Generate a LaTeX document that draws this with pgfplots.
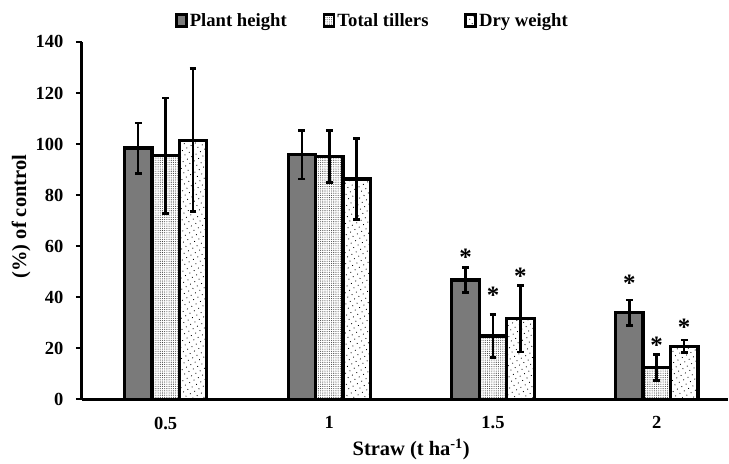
\documentclass[border=0pt]{standalone}
\usepackage{pgfplots}
\pgfplotsset{compat=1.18}
\usepackage{fontspec}
\setmainfont{Liberation Serif}
\usetikzlibrary{patterns.meta}
\tikzset{
  phfill/.style={fill=black!52},
  ttfill/.style={fill=white, postaction={pattern={Dots[distance=2.2bp, radius=0.55bp]}, pattern color=black!75}},
  dwfill/.style={fill=white, postaction={pattern={Dots[distance=5bp, radius=0.6bp, angle=30]}, pattern color=black}},
}
\pgfplotsset{
  errstyle/.style={draw=none, mark=none, forget plot,
    error bars/.cd, y dir=both, y explicit,
    error bar style={line width=2.6bp, black},
    error mark options={rotate=90, mark size=3.4bp, line width=2.8bp, black}},
}
\begin{document}
\begin{tikzpicture}
\begin{axis}[
  scale only axis,
  width=647bp, height=358bp,
  at={(0,0)}, anchor=south west,
  xmin=-0.512, xmax=3.433,
  ymin=0, ymax=140,
  axis x line*=bottom, axis y line*=left,
  axis line style={line width=2.8bp, -},
  xtick={0,1,2,3},
  xticklabels={0.5,1,1.5,2},
  x tick style={draw=none},
  ytick={0,20,...,140},
  y tick style={line width=2.2bp, black},
  tick align=outside,
  major tick length=6bp,
  /pgf/number format/assume math mode=true,
  tick label style={font=\fontsize{18.5bp}{22bp}\selectfont\bfseries},
  yticklabel style={xshift=-9bp},
  xticklabel style={yshift=-8bp},
  xlabel={Straw (t ha\textsuperscript{-1})},
  ylabel={(\%) of control},
  label style={font=\fontsize{20.5bp}{24bp}\selectfont\bfseries},
  xlabel style={at={(rel axis cs:0.51,0)}, anchor=north, yshift=-36bp},
  ylabel style={at={(rel axis cs:0,0.511)}, anchor=south, yshift=48bp},
  legend style={at={(rel axis cs:0.45,1.06)}, anchor=center, draw=none,
    legend columns=3, font=\fontsize{18.7bp}{22bp}\selectfont\bfseries,
    /tikz/every even column/.append style={column sep=34bp}},
  legend cell align=left,
  legend image code/.code={\draw[#1, line width=2.8bp] (0bp,-6bp) rectangle (10bp,6bp);},
  clip=false,
]
% bars
\addplot[ybar, bar width=0.1677, bar shift=-0.1677, draw=black, line width=3.2bp, phfill]
  coordinates {(0,98.4) (1,95.8) (2,46.7) (3,33.9)};
\addplot[ybar, bar width=0.1677, bar shift=0, draw=black, line width=3.2bp, ttfill]
  coordinates {(0,95.4) (1,95.2) (2,24.8) (3,12.4)};
\addplot[ybar, bar width=0.1677, bar shift=0.1677, draw=black, line width=3.2bp, dwfill]
  coordinates {(0,101.5) (1,86.3) (2,31.5) (3,20.8)};
\legend{Plant height, Total tillers, Dry weight}
% error bars (at the bar centres)
\addplot[errstyle] coordinates {(-0.1677,98.4) +- (0,9.8) (0.8323,95.8) +- (0,9.5) (1.8323,46.7) +- (0,5.0) (2.8323,33.9) +- (0,5.0)};
\addplot[errstyle] coordinates {(0,95.4) +- (0,22.6) (1,95.2) +- (0,10.2) (2,24.8) +- (0,8.5) (3,12.4) +- (0,5.0)};
\addplot[errstyle] coordinates {(0.1677,101.5) +- (0,28.0) (1.1677,86.3) +- (0,16.0) (2.1677,31.5) +- (0,13.0) (3.1677,20.8) +- (0,2.4)};
% significance asterisks
\addplot[only marks, forget plot, mark=text, text mark={\fontsize{25bp}{26bp}\selectfont\bfseries *}]
  coordinates {(1.8323,55.6) (2,40.6) (2.1677,48.1) (2.8323,45.5) (3,21.1) (3.1677,28.3)};
\end{axis}
\path[use as bounding box] (-82bp,-57bp) rectangle (647bp,400bp);
\end{tikzpicture}
\end{document}
